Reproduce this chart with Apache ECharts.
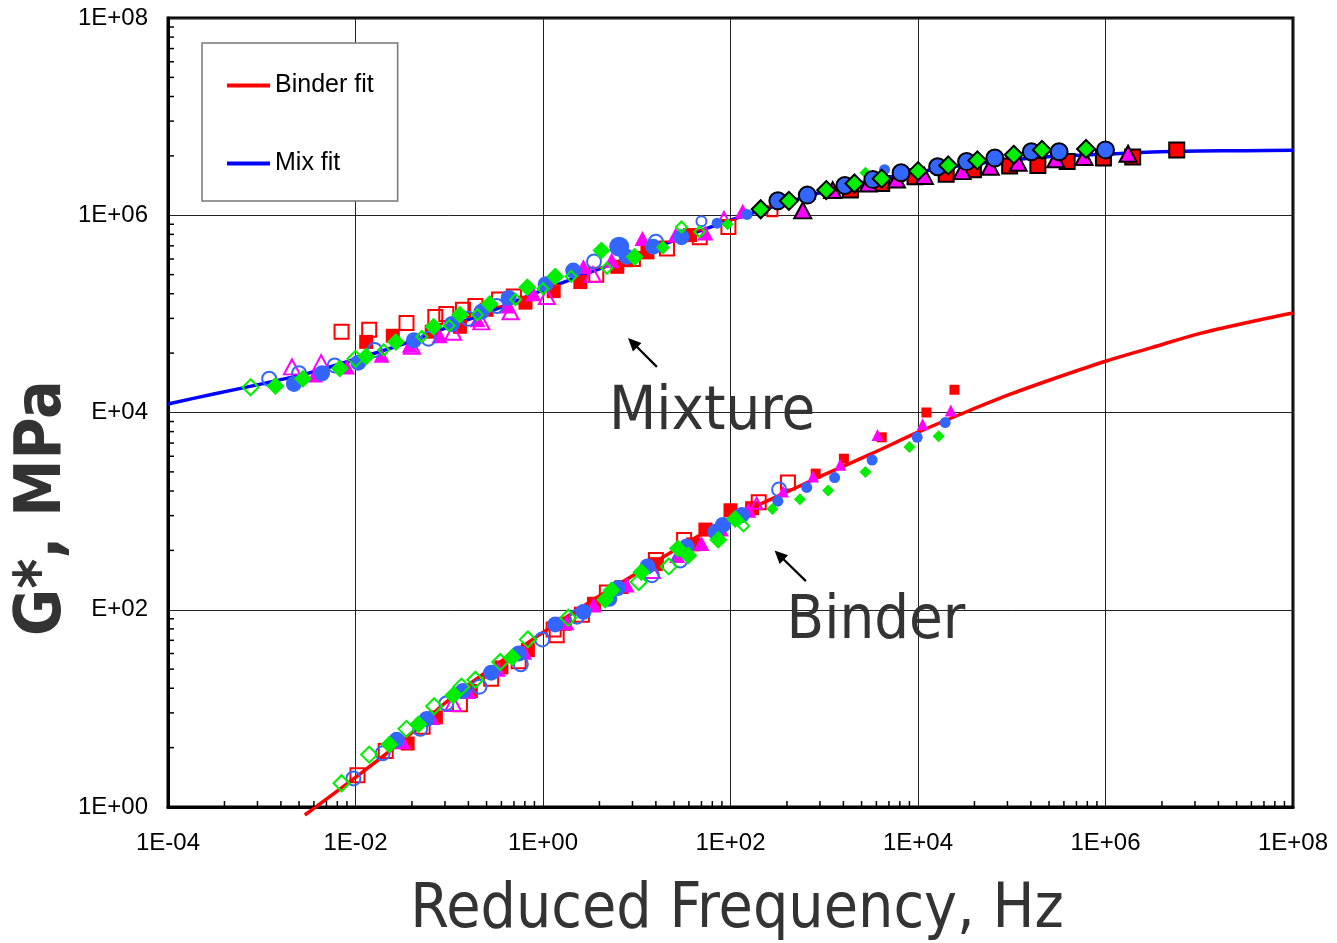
<!DOCTYPE html>
<html>
<head>
<meta charset="utf-8">
<script src="https://cdn.jsdelivr.net/npm/echarts@6/dist/echarts.min.js"></script>
<style>
  html, body { margin: 0; padding: 0; background: #ffffff; }
  #chart { width: 1337px; height: 943px; }
</style>
</head>
<body>
<div id="chart"></div>
<script>
// ---- Master-curve fits: reduced frequency (Hz) vs |G*| (MPa) ----
const mixFitFreq = [1e-4, 3.16e-4, 1e-3, 3.16e-3, 1e-2, 3.16e-2, 0.1, 0.316, 1, 3.16, 10, 31.6, 100, 316, 1e3, 3.16e3, 1e4, 3.16e4, 1e5, 3.16e5, 1e6, 3.16e6, 1e7, 3.16e7, 1e8];
const mixFitModulus = [1.22e4, 1.55e4, 1.95e4, 2.51e4, 3.47e4, 4.9e4, 7.41e4, 1.12e5, 1.74e5, 2.63e5, 3.98e5, 6.03e5, 8.91e5, 1.26e6, 1.74e6, 2.24e6, 2.75e6, 3.24e6, 3.63e6, 3.98e6, 4.17e6, 4.37e6, 4.47e6, 4.52e6, 4.57e6];

const binderFitFreq = [2.88e-3, 1e-2, 3.16e-2, 0.1, 0.316, 1, 3.16, 10, 31.6, 100, 316, 1e3, 3.16e3, 1e4, 3.16e4, 1e5, 3.16e5, 1e6, 3.16e6, 1e7, 3.16e7, 1e8];
const binderFitModulus = [0.83, 2.0, 4.68, 12.3, 27.5, 58.9, 120, 234, 457, 851, 1410, 2340, 3800, 6310, 1.0e4, 1.55e4, 2.29e4, 3.31e4, 4.57e4, 6.31e4, 8.13e4, 1.02e5];

// ---- Measured data, [frequency Hz, |G*| MPa] ----
const mixOpenSquare = [[7.1e-3, 6.6e4], [1.4e-2, 6.9e4], [3.5e-2, 8.1e4], [7.1e-2, 9.3e4], [9.3e-2, 1.0e5], [0.14, 1.1e5], [0.19, 1.2e5], [0.34, 1.4e5], [0.49, 1.5e5], [3.7, 2.5e5], [9.1, 3.6e5], [21, 4.6e5], [47, 6.0e5], [95, 7.6e5]];
const binderOpenSquare = [[1.05e-2, 2.1], [2.1e-2, 3.7], [5.2e-2, 6.5], [0.13, 11], [0.28, 20], [0.55, 30], [1.3, 63], [1.4, 55], [2.6, 89], [4.8, 150], [16, 320], [32, 510], [200, 1230], [410, 1950]];

const mixFilledSquare = [[1.3e-2, 5.2e4], [2.5e-2, 6.0e4], [6.5e-2, 6.6e4], [0.13, 7.4e4], [0.25, 1.1e5], [0.65, 1.3e5], [1.3, 1.7e5], [2.5, 2.1e5], [6.2, 3.0e5], [7.8, 3.5e5], [13, 4.2e5], [37, 6.3e5]];
const binderFilledSquare = [[3.6e-2, 4.4], [7.2e-2, 8.1], [0.17, 15], [0.36, 26], [0.69, 39], [1.7, 72], [3.5, 115], [6.9, 170], [16, 290], [40, 460], [54, 650], [100, 1020], [170, 1070]];

const mixOpenTriangle = [[2.1e-3, 2.9e4], [4.3e-3, 3.2e4], [4.0e-2, 4.7e4], [0.11, 6.5e4], [0.22, 8.3e4], [0.45, 1.05e5], [1.1, 1.5e5], [3.4, 2.5e5]];
const binderOpenTriangle = [[0.11, 11.2], [14.5, 250]];

const mixFilledTriangle = [[3.7e-3, 2.4e4], [8.1e-3, 2.9e4], [1.9e-2, 3.8e4], [3.8e-2, 4.8e4], [7.9e-2, 6.0e4], [0.20, 8.7e4], [0.41, 1.2e5], [0.79, 1.6e5], [2.7, 3.0e5], [5.4, 3.5e5], [11.5, 5.8e5], [26, 6.3e5], [54, 6.6e5], [135, 1.1e6]];
const binderFilledTriangle = [[3.2e-2, 4.6], [6.5e-2, 8.1], [0.16, 14.8], [0.33, 25], [0.63, 37], [1.78, 74], [3.47, 112], [7.8, 178], [27, 355], [49, 470], [79, 660], [155, 1020]];

const mixOpenCircle = [[1.2e-3, 2.2e4], [2.5e-3, 2.5e4], [6.0e-3, 3.0e4], [1.6e-2, 4.3e4], [6.0e-2, 5.6e4], [0.16, 8.9e4], [0.32, 1.2e5], [3.5, 3.4e5], [16, 5.4e5]];
const binderOpenCircle = [[9.5e-3, 1.95], [1.95e-2, 3.5], [4.9e-2, 6.2], [9.3e-2, 11.2], [0.21, 16.6], [0.58, 28], [0.98, 50], [2.3, 85], [14.5, 224], [29, 316], [330, 1660]];

const mixFilledCircle = [[2.2e-3, 1.95e4], [4.4e-3, 2.5e4], [1.07e-2, 3.2e4], [4.2e-2, 5.4e4], [0.107, 7.9e4], [0.22, 1.05e5], [0.43, 1.45e5], [1.07, 2.0e5], [2.1, 2.75e5], [7.8, 3.8e5], [15, 4.8e5], [30, 6.0e5]];
const mixLargeCircle = [[6.5, 4.8e5]];
const binderFilledCircle = [[2.75e-2, 4.8], [5.75e-2, 7.8], [0.14, 15], [0.28, 23], [0.55, 36], [1.35, 71], [2.7, 95], [5.1, 129], [6.3, 166], [13, 275], [34, 437], [69, 617], [83, 724], [132, 912]];

const mixOpenDiamond = [[7.6e-4, 1.8e4], [1.0e-2, 3.5e4]];
const binderOpenDiamond = [[7.1e-3, 1.74], [1.4e-2, 3.4], [3.5e-2, 6.2], [6.9e-2, 10.5], [0.135, 16.6], [0.19, 19.5], [0.35, 29.5], [0.69, 50], [1.86, 83], [10.5, 191], [22, 275]];

const mixFilledDiamond = [[1.4e-3, 1.86e4], [2.75e-3, 2.2e4], [6.8e-3, 2.8e4], [1.3e-2, 3.7e4], [2.7e-2, 5.2e4], [6.8e-2, 7.4e4], [0.13, 9.8e4], [0.27, 1.26e5], [0.68, 1.86e5], [1.35, 2.4e5], [4.2, 4.4e5], [9.5, 3.8e5]];
const binderFilledDiamond = [[2.3e-2, 4.3], [4.7e-2, 6.9], [0.11, 13.5], [0.47, 33], [4.6, 126], [5.4, 158], [11.2, 240], [27.5, 417], [35.5, 355], [74, 513], [112, 832]];

// smaller markers
const smallOpenDiamond = [[2.0e-2, 4.3e4], [5.1e-2, 5.9e4], [0.10, 7.6e4], [0.20, 9.8e4], [0.51, 1.4e5], [1.0, 1.8e5], [2.0, 2.4e5], [4.8, 2.9e5], [9.5, 3.6e5], [19, 4.7e5], [30, 7.6e5], [47, 6.8e5], [138, 708]];
const smallOpenSquare = [[280, 1.1e6]];
const smallOpenTriangle = [[85, 9.5e5], [190, 1200]];
const smallOpenCircle = [[49, 8.7e5]];
const smallFilledSquare = [[810, 2400], [1620, 3400], [4100, 5600], [1.23e4, 1.0e4], [2.45e4, 1.7e4]];
const smallFilledTriangle = [[363, 1580], [760, 2240], [1480, 2950], [3700, 5900], [1.12e4, 7600], [2.24e4, 1.05e4]];
const smallFilledCircle = [[72, 8.3e5], [150, 1.02e6], [4400, 2.9e6], [320, 1260], [650, 1740], [1290, 2190], [3240, 3300], [9800, 5600], [1.95e4, 7900]];
const smallFilledDiamond = [[19, 4.8e5], [93, 8.1e5], [2750, 2.7e6], [280, 1050], [550, 1320], [1100, 1620], [2750, 2500], [8100, 4470], [1.66e4, 5750]];

// outlined markers at high frequency (mixture)
const edgedSquare = [[1900, 1.8e6], [4100, 2.1e6], [9300, 2.45e6], [2.0e4, 2.6e6], [3.9e4, 2.9e6], [9.5e4, 3.16e6], [1.9e5, 3.2e6], [3.9e5, 3.5e6], [9.5e5, 3.8e6], [1.95e6, 3.9e6], [5.75e6, 4.6e6]];
const edgedTriangle = [[590, 1.12e6], [1230, 1.8e6], [2950, 2.1e6], [5900, 2.3e6], [1.17e4, 2.5e6], [2.95e4, 2.8e6], [5.9e4, 3.1e6], [1.17e5, 3.4e6], [2.95e5, 3.7e6], [5.9e5, 3.9e6], [1.74e6, 4.2e6]];
const edgedCircle = [[320, 1.4e6], [660, 1.6e6], [1660, 2.0e6], [3300, 2.3e6], [6600, 2.7e6], [1.62e4, 3.1e6], [3.3e4, 3.5e6], [6.6e4, 3.8e6], [1.62e5, 4.4e6], [3.2e5, 4.4e6], [1.0e6, 4.6e6]];
const edgedDiamond = [[210, 1.15e6], [420, 1.4e6], [1050, 1.8e6], [2100, 2.1e6], [4100, 2.35e6], [1.0e4, 2.8e6], [2.1e4, 3.2e6], [4.3e4, 3.6e6], [1.05e5, 4.1e6], [2.1e5, 4.6e6], [6.2e5, 4.7e6]];

// ---- Axes ----
const xTickExp = [-4, -2, 0, 2, 4, 6, 8];
const xTickLabels = ['1E-04', '1E-02', '1E+00', '1E+02', '1E+04', '1E+06', '1E+08'];
const yTickExp = [0, 2, 4, 6, 8];
const yTickLabels = ['1E+00', 'E+02', 'E+04', '1E+06', '1E+08'];
const minorFactors = [4, 9, 16, 25, 36, 49, 64, 81];

const X_MIN = 1e-4, X_MAX = 1e8, Y_MIN = 1, Y_MAX = 1e8;

// annotations: labels and arrows placed in data coordinates
const labelMixture = { text: 'Mixture', at: [63.6, 9.8e3] };
const labelBinder = { text: 'Binder', at: [3560, 74] };
const arrows = [
  [16.4, 2.9e4, 8.07, 5.7e4],
  [638, 195, 295, 398]
];

const RED = '#ff0000', MAGENTA = '#ff00ff', BLUE = '#3366ff', GREEN = '#00ee00';
const NONE = 'rgba(0,0,0,0)';
const TITLE_FONT = "'DejaVu Sans Condensed', 'DejaVu Sans', sans-serif";
const TICK_FONT = "'Liberation Sans', Arial, sans-serif";

function pairs(xs, ys) { return xs.map((x, i) => [x, ys[i]]); }

function marks(name, data, symbol, size, fill, stroke, width) {
  return {
    name: name, type: 'scatter', data: data, symbol: symbol, symbolSize: size,
    itemStyle: { color: fill, borderColor: stroke, borderWidth: width, opacity: 1 },
    emphasis: { disabled: true }, silent: true, z: 4, animation: false
  };
}

function labelFor(exps, labels) {
  return function (v) {
    const i = exps.indexOf(Math.round(Math.log10(v)));
    return i >= 0 ? labels[i] : '';
  };
}

// minor ticks every k^2 within each two-decade step
const xMinorTicks = [];
xTickExp.slice(0, -1).forEach(e => minorFactors.forEach(k => xMinorTicks.push([k * Math.pow(10, e), Y_MIN])));
const yMinorTicks = [];
yTickExp.slice(0, -1).forEach(e => minorFactors.forEach(k => yMinorTicks.push([X_MIN, k * Math.pow(10, e)])));

function tickSeries(data, horizontal) {
  return {
    type: 'custom', data: data, silent: true, z: 6, animation: false, clip: false,
    renderItem: function (params, api) {
      const p = api.coord([api.value(0), api.value(1)]);
      const shape = horizontal
        ? { x1: p[0], y1: p[1], x2: p[0] + 6, y2: p[1] }
        : { x1: p[0], y1: p[1], x2: p[0], y2: p[1] - 6 };
      return { type: 'line', shape: shape, style: { stroke: '#000', lineWidth: 1.5 } };
    }
  };
}

// arrow from (x1,y1) to head at (x2,y2)
const arrowSeries = {
  type: 'custom', data: arrows, silent: true, z: 7, animation: false, clip: false,
  encode: { x: [0, 2], y: [1, 3] },
  renderItem: function (params, api) {
    const a = api.coord([api.value(0), api.value(1)]);
    const b = api.coord([api.value(2), api.value(3)]);
    const dx = b[0] - a[0], dy = b[1] - a[1];
    const len = Math.sqrt(dx * dx + dy * dy);
    const ux = dx / len, uy = dy / len;
    const headLen = 13, headHalf = 6;
    const bx = b[0] - ux * headLen, by = b[1] - uy * headLen;
    return {
      type: 'group',
      children: [
        { type: 'line', shape: { x1: a[0], y1: a[1], x2: bx + ux * 2, y2: by + uy * 2 }, style: { stroke: '#000', lineWidth: 2.2 } },
        { type: 'polygon', shape: { points: [[b[0], b[1]], [bx - uy * headHalf, by + ux * headHalf], [bx + uy * headHalf, by - ux * headHalf]] }, style: { fill: '#000' } }
      ]
    };
  }
};

const chart = echarts.init(document.getElementById('chart'), null, { renderer: 'canvas' });

const option = {
  animation: false,
  backgroundColor: '#ffffff',
  grid: { left: 168, top: 18, right: 44, bottom: 136, show: true, borderColor: '#000', borderWidth: 3, backgroundColor: 'transparent' },
  xAxis: {
    type: 'log', logBase: 10, min: X_MIN, max: X_MAX, interval: 2,
    axisLine: { show: true, onZero: false, lineStyle: { color: '#000', width: 3 } },
    axisTick: { show: false },
    splitLine: { show: true, lineStyle: { color: '#222', width: 1 } },
    axisLabel: { formatter: labelFor(xTickExp, xTickLabels), fontFamily: TICK_FONT, fontSize: 24, color: '#000', margin: 24, showMinLabel: true, showMaxLabel: true, hideOverlap: false }
  },
  yAxis: {
    type: 'log', logBase: 10, min: Y_MIN, max: Y_MAX, interval: 2,
    axisLine: { show: true, onZero: false, lineStyle: { color: '#000', width: 3 } },
    axisTick: { show: false },
    splitLine: { show: true, lineStyle: { color: '#222', width: 1 } },
    axisLabel: { formatter: labelFor(yTickExp, yTickLabels), fontFamily: TICK_FONT, fontSize: 24, color: '#000', margin: 20, showMinLabel: true, showMaxLabel: true, hideOverlap: false }
  },
  legend: {
    data: [{ name: 'Binder fit', icon: 'rect' }, { name: 'Mix fit', icon: 'rect' }],
    orient: 'vertical', left: 202, top: 43,
    itemWidth: 43, itemHeight: 4, itemGap: 53,
    padding: [30, 24, 25, 25],
    backgroundColor: '#ffffff', borderColor: '#777', borderWidth: 1.5,
    textStyle: { fontFamily: TICK_FONT, fontSize: 25, color: '#000' },
    selectedMode: false
  },
  graphic: [
    {
      type: 'text', x: 737, y: 911, z: 10, silent: true,
      style: { text: 'Reduced Frequency, Hz', font: '62px ' + TITLE_FONT, fill: '#333', align: 'center', verticalAlign: 'middle' }
    },
    {
      type: 'text', x: 43, y: 508, rotation: Math.PI / 2, z: 10, silent: true,
      style: { text: 'G*, MPa', font: 'bold 64px ' + TITLE_FONT, fill: '#333', align: 'center', verticalAlign: 'middle' }
    }
  ],
  series: [
    {
      name: 'Binder fit', type: 'line', data: pairs(binderFitFreq, binderFitModulus),
      smooth: 0.3, showSymbol: false, symbol: 'none', clip: false, z: 3,
      lineStyle: { color: RED, width: 3.5 }, itemStyle: { color: RED },
      emphasis: { disabled: true }, silent: true,
      markPoint: {
        silent: true, symbol: 'circle', symbolSize: 0, animation: false,
        label: { show: true, position: 'inside', fontFamily: TITLE_FONT, fontSize: 61, color: '#333' },
        data: [
          { coord: labelMixture.at, value: 0, label: { formatter: labelMixture.text } },
          { coord: labelBinder.at, value: 0, label: { formatter: labelBinder.text } }
        ]
      }
    },
    {
      name: 'Mix fit', type: 'line', data: pairs(mixFitFreq, mixFitModulus),
      smooth: 0.3, showSymbol: false, symbol: 'none', z: 3,
      lineStyle: { color: '#0000ff', width: 3.5 }, itemStyle: { color: '#0000ff' },
      emphasis: { disabled: true }, silent: true
    },
    marks('open square', mixOpenSquare.concat(binderOpenSquare), 'rect', 14, NONE, RED, 2),
    marks('filled square', mixFilledSquare.concat(binderFilledSquare), 'rect', 14, RED, RED, 0),
    marks('open triangle', mixOpenTriangle.concat(binderOpenTriangle), 'triangle', [16, 15], NONE, MAGENTA, 2),
    marks('filled triangle', mixFilledTriangle.concat(binderFilledTriangle), 'triangle', [16, 15], MAGENTA, MAGENTA, 0),
    marks('open circle', mixOpenCircle.concat(binderOpenCircle), 'circle', 14, NONE, BLUE, 2),
    marks('filled circle', mixFilledCircle.concat(binderFilledCircle), 'circle', 16, BLUE, BLUE, 0),
    marks('large circle', mixLargeCircle, 'circle', 20, BLUE, BLUE, 0),
    marks('filled diamond', mixFilledDiamond.concat(binderFilledDiamond), 'diamond', 18, GREEN, GREEN, 0),
    marks('open diamond', mixOpenDiamond.concat(binderOpenDiamond), 'diamond', 16, NONE, GREEN, 2),
    marks('small open square', smallOpenSquare, 'rect', 10, NONE, RED, 2),
    marks('small open triangle', smallOpenTriangle, 'triangle', 11, NONE, MAGENTA, 2),
    marks('small open circle', smallOpenCircle, 'circle', 10, NONE, BLUE, 2),
    marks('small open diamond', smallOpenDiamond, 'diamond', 11, NONE, GREEN, 2),
    marks('small filled square', smallFilledSquare, 'rect', 10, RED, RED, 0),
    marks('small filled triangle', smallFilledTriangle, 'triangle', 12, MAGENTA, MAGENTA, 0),
    marks('small filled circle', smallFilledCircle, 'circle', 11, BLUE, BLUE, 0),
    marks('small filled diamond', smallFilledDiamond, 'diamond', 12, GREEN, GREEN, 0),
    marks('edged square', edgedSquare, 'rect', 15, RED, '#000', 2),
    marks('edged triangle', edgedTriangle, 'triangle', [17, 16], MAGENTA, '#000', 2),
    marks('edged circle', edgedCircle, 'circle', 17, BLUE, '#000', 2),
    marks('edged diamond', edgedDiamond, 'diamond', 18, GREEN, '#000', 2),
    tickSeries(xMinorTicks, false),
    tickSeries(yMinorTicks, true),
    arrowSeries
  ]
};

chart.setOption(option);
</script>
</body>
</html>
